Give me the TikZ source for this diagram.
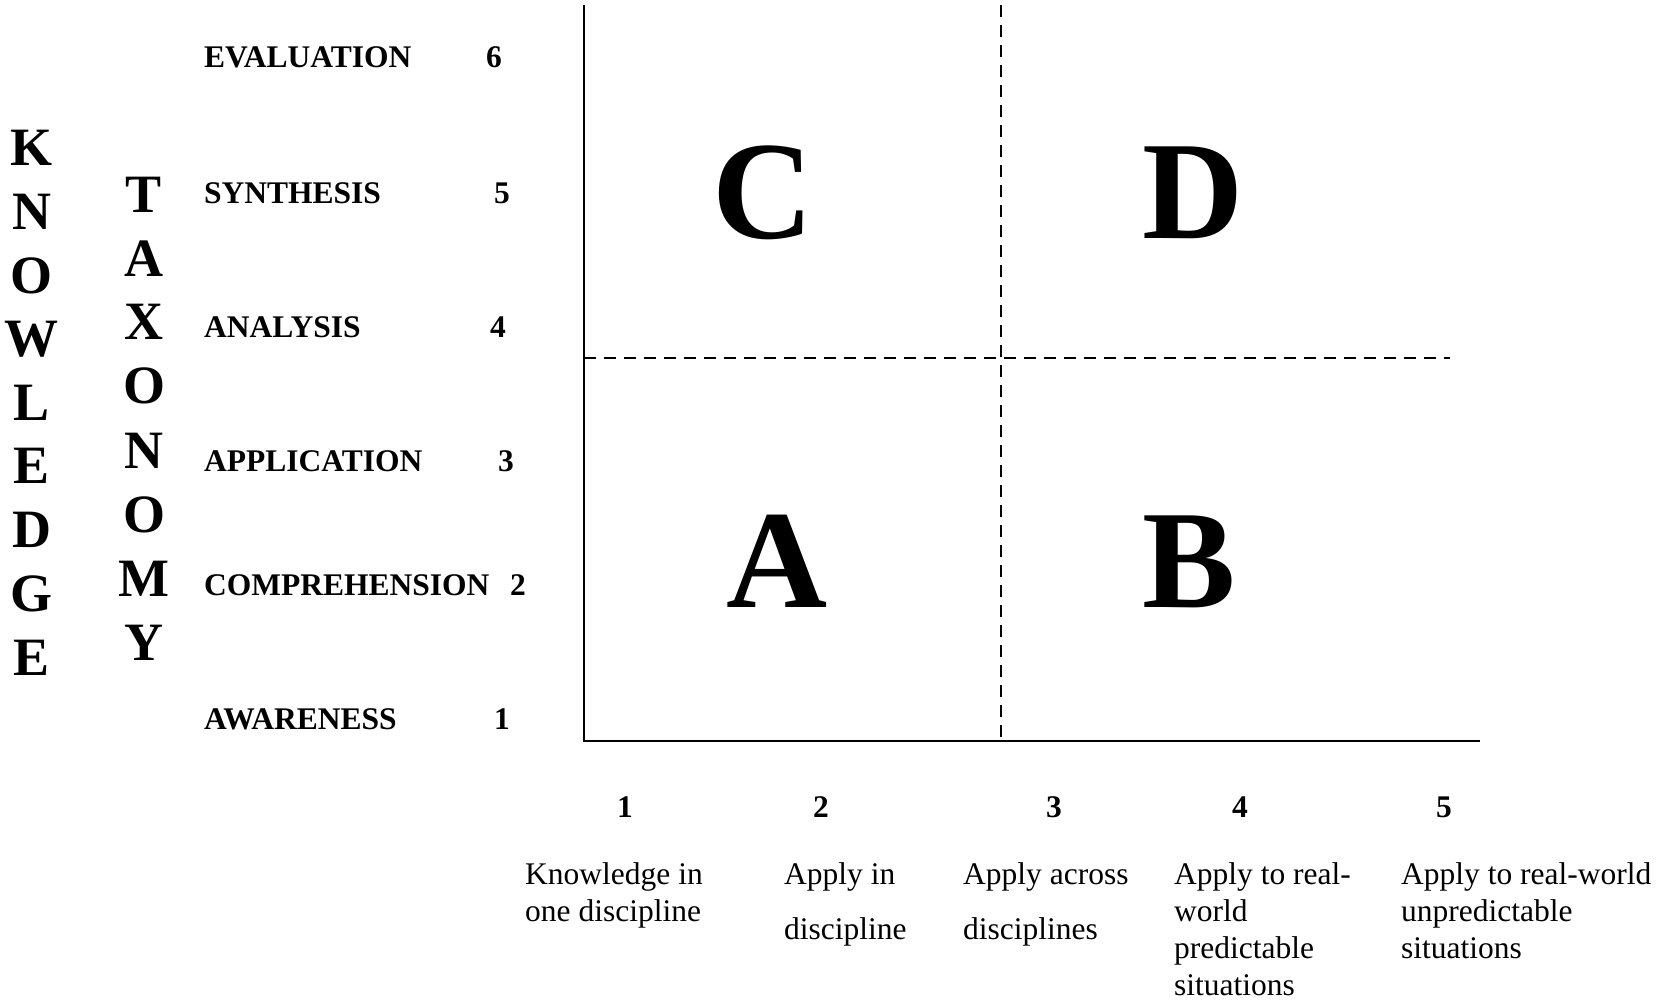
\documentclass[tikz,border=0pt]{standalone}
\usepackage{fontspec}
\setmainfont{Liberation Serif}
\begin{document}
\begin{tikzpicture}[x=1pt,y=-1pt,
  axis/.style={line width=2.5pt},
  grid/.style={line width=2pt, dash pattern=on 12pt off 8pt},
  quad/.style={font={\fontsize{140}{140}\selectfont\bfseries}, inner sep=0pt, text height=93pt, text depth=0pt, anchor=center},
  vletter/.style={font={\fontsize{54}{54}\selectfont\bfseries}, inner sep=0pt, text height=36pt, text depth=0pt, anchor=center},
  level/.style={font={\fontsize{31.5}{31.5}\selectfont\bfseries}, inner sep=0pt, anchor=base west},
  levnum/.style={font={\fontsize{31.5}{31.5}\selectfont\bfseries}, inner sep=0pt, anchor=base},
  xnum/.style={font={\fontsize{31.5}{31.5}\selectfont\bfseries}, inner sep=0pt, anchor=base},
  xlabel/.style={font={\fontsize{31.5}{38}\selectfont}, inner sep=0pt, anchor=base west}
]
\useasboundingbox (0,0) rectangle (1669,1001);

% axes
\coordinate (o) at (584,741);
\coordinate (ytop) at (584,5);
\coordinate (xend) at (1480,741);
\draw[axis] (ytop) -- (o) -- (xend);

% dashed dividers
\coordinate (vtop) at (1001,5);
\coordinate (vbot) at (1001,741);
\coordinate (hl) at (584,358);
\coordinate (hr) at (1450,358);
\draw[grid] (vtop) -- (vbot);
\draw[grid] (hl) -- (hr);

% quadrant letters
\node[quad] (qC) at (763,192) {C};
\node[quad] (qD) at (1193,192) {D};
\node[quad] (qA) at (777,561) {A};
\node[quad] (qB) at (1189,561) {B};

% KNOWLEDGE
\foreach \l/\yy [count=\i] in {K/147,N/211,O/275,W/338,L/402,E/465,D/529,G/593,E/657}
  \node[vletter] (k\i) at (32,\yy) {\l};
% TAXONOMY
\foreach \l/\yy [count=\i] in {T/194,A/258,X/321,O/385,N/450,O/514,M/578,Y/642}
  \node[vletter] (t\i) at (144,\yy) {\l};

% levels
\node[level] (l6) at (204,67) {EVALUATION};
\node[level] (l5) at (204,203) {SYNTHESIS};
\node[level] (l4) at (204,337) {ANALYSIS};
\node[level] (l3) at (204,471) {APPLICATION};
\node[level] (l2) at (204,595) {COMPREHENSION};
\node[level] (l1) at (204,729) {AWARENESS};
\node[levnum] (n6) at (494,67) {6};
\node[levnum] (n5) at (502,203) {5};
\node[levnum] (n4) at (498,337) {4};
\node[levnum] (n3) at (506,471) {3};
\node[levnum] (n2) at (518,595) {2};
\node[levnum] (n1) at (502,729) {1};

% x numbers
\node[xnum] (x1) at (625,817) {1};
\node[xnum] (x2) at (821,817) {2};
\node[xnum] (x3) at (1054,817) {3};
\node[xnum] (x4) at (1240,817) {4};
\node[xnum] (x5) at (1444,817) {5};

% x labels
\node[xlabel] (a1) at (525,884) {Knowledge in};
\node[xlabel] (a2) at (525,921) {one discipline};
\node[xlabel] (b1) at (784,884) {Apply in};
\node[xlabel] (b2) at (784,939) {discipline};
\node[xlabel] (c1) at (963,884) {Apply across};
\node[xlabel] (c2) at (963,939) {disciplines};
\node[xlabel] (d1) at (1174,884) {Apply to real-};
\node[xlabel] (d2) at (1174,921) {world};
\node[xlabel] (d3) at (1174,958) {predictable};
\node[xlabel] (d4) at (1174,995) {situations};
\node[xlabel] (e1) at (1401,884) {Apply to real-world};
\node[xlabel] (e2) at (1401,921) {unpredictable};
\node[xlabel] (e3) at (1401,958) {situations};
\end{tikzpicture}
\end{document}
